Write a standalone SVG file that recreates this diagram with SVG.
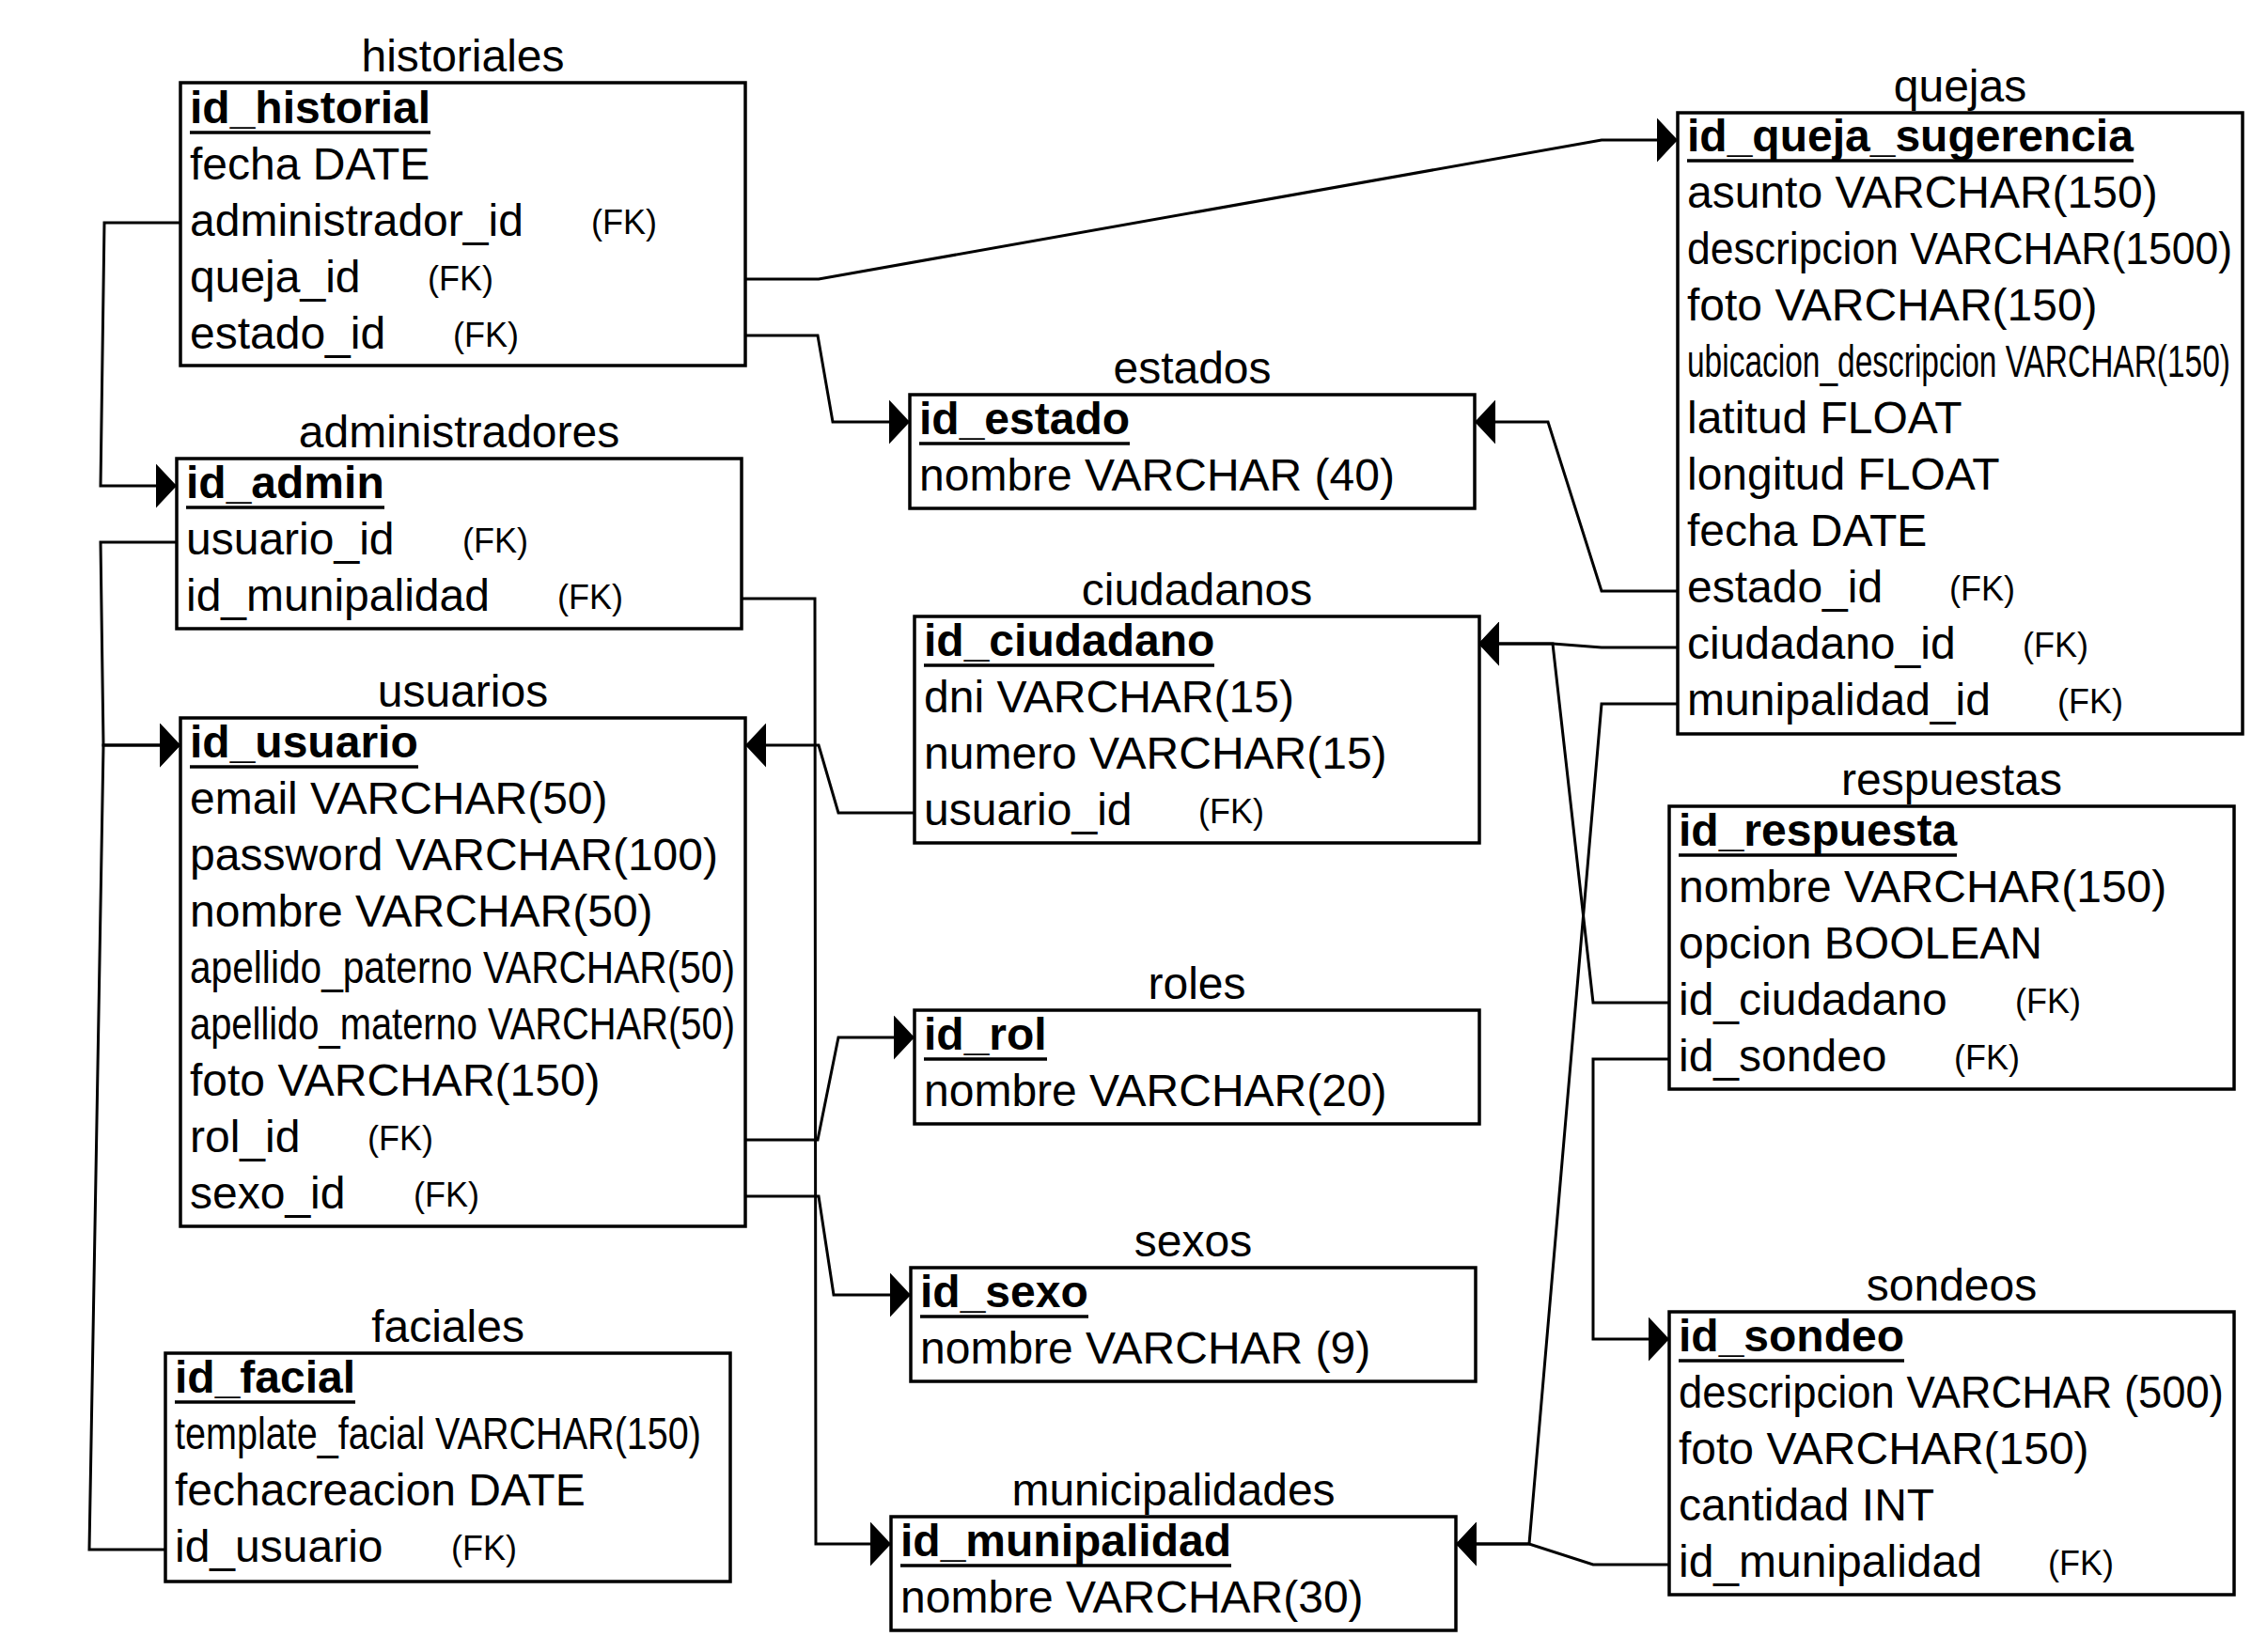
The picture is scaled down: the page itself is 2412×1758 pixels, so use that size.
<svg xmlns="http://www.w3.org/2000/svg" width="2412" height="1758" viewBox="0 0 2412 1758">
<style>
.bg{fill:#fff}
.box{fill:#fff;stroke:#000;stroke-width:3.5}
.t{font-family:"Liberation Sans",Arial,Helvetica,sans-serif;font-size:48px;fill:#000}
.title{text-anchor:middle}
.pk{font-weight:bold}
.ul{stroke:#000;stroke-width:3.5}
.fk{font-size:36px}
.ln{fill:none;stroke:#000;stroke-width:3;stroke-linejoin:miter}
.ar{marker-end:url(#arr)}
</style>
<defs>
<marker id="arr" viewBox="0 0 22 47" refX="22" refY="23.5" markerWidth="22" markerHeight="47" markerUnits="userSpaceOnUse" orient="auto">
<path d="M0,0 L22,23.5 L0,47 Z" fill="#000"/>
</marker>
</defs>
<rect class="bg" x="0" y="0" width="2412" height="1758"/>

<g id="connectors">
<path class="ln ar" d="M192,237 L111,237 L107,517 L188,517"/>
<path class="ln ar" d="M793,297 L871,297 L1704,149 L1785,149"/>
<path class="ln ar" d="M793,357 L870,357 L886,449 L968,449"/>
<path class="ln ar" d="M188,577 L107,577 L110,793 L192,793"/>
<path class="ln ar" d="M176,1649 L95,1649 L110,793 L192,793"/>
<path class="ln ar" d="M789,637 L867,637 L868,1643 L948,1643"/>
<path class="ln ar" d="M973,865 L892,865 L871,793 L793,793"/>
<path class="ln ar" d="M793,1213 L870,1213 L892,1104 L973,1104"/>
<path class="ln ar" d="M793,1273 L871,1273 L887,1378 L969,1378"/>
<path class="ln ar" d="M1785,629 L1704,629 L1647,449 L1569,449"/>
<path class="ln ar" d="M1785,689 L1704,689 L1652,685 L1573,685"/>
<path class="ln ar" d="M1776,1067 L1695,1067 L1652,685 L1573,685"/>
<path class="ln ar" d="M1785,749 L1704,749 L1627,1643 L1549,1643"/>
<path class="ln ar" d="M1776,1665 L1695,1665 L1627,1643 L1549,1643"/>
<path class="ln ar" d="M1776,1127 L1695,1127 L1695,1425 L1776,1425"/>
</g>

<g id="historiales">
<text class="t title" x="492.5" y="76">historiales</text>
<rect class="box" x="192" y="88" width="601" height="301"/>
<text class="t pk" x="202" y="131">id_historial</text><line class="ul" x1="202" y1="141" x2="458" y2="141"/>
<text class="t" x="202" y="191">fecha DATE</text>
<text class="t" x="202" y="251">administrador_id</text><text class="t fk" x="629" y="249">(FK)</text>
<text class="t" x="202" y="311">queja_id</text><text class="t fk" x="455" y="309">(FK)</text>
<text class="t" x="202" y="371">estado_id</text><text class="t fk" x="482" y="369">(FK)</text>
</g>

<g id="administradores">
<text class="t title" x="488.5" y="476">administradores</text>
<rect class="box" x="188" y="488" width="601" height="181"/>
<text class="t pk" x="198" y="530">id_admin</text><line class="ul" x1="198" y1="540" x2="409" y2="540"/>
<text class="t" x="198" y="590">usuario_id</text><text class="t fk" x="492" y="588">(FK)</text>
<text class="t" x="198" y="650">id_munipalidad</text><text class="t fk" x="593" y="648">(FK)</text>
</g>

<g id="usuarios">
<text class="t title" x="492.5" y="752">usuarios</text>
<rect class="box" x="192" y="764" width="601" height="541"/>
<text class="t pk" x="202" y="806">id_usuario</text><line class="ul" x1="202" y1="816" x2="445" y2="816"/>
<text class="t" x="202" y="866">email VARCHAR(50)</text>
<text class="t" x="202" y="926">password VARCHAR(100)</text>
<text class="t" x="202" y="986">nombre VARCHAR(50)</text>
<text class="t" x="202" y="1046" textLength="580" lengthAdjust="spacingAndGlyphs">apellido_paterno VARCHAR(50)</text>
<text class="t" x="202" y="1106" textLength="580" lengthAdjust="spacingAndGlyphs">apellido_materno VARCHAR(50)</text>
<text class="t" x="202" y="1166">foto VARCHAR(150)</text>
<text class="t" x="202" y="1226">rol_id</text><text class="t fk" x="391" y="1224">(FK)</text>
<text class="t" x="202" y="1286">sexo_id</text><text class="t fk" x="440" y="1284">(FK)</text>
</g>

<g id="faciales">
<text class="t title" x="476.5" y="1428">faciales</text>
<rect class="box" x="176" y="1440" width="601" height="243"/>
<text class="t pk" x="186" y="1482">id_facial</text><line class="ul" x1="186" y1="1492" x2="378" y2="1492"/>
<text class="t" x="186" y="1542" textLength="560" lengthAdjust="spacingAndGlyphs">template_facial VARCHAR(150)</text>
<text class="t" x="186" y="1602">fechacreacion DATE</text>
<text class="t" x="186" y="1662">id_usuario</text><text class="t fk" x="480" y="1660">(FK)</text>
</g>

<g id="estados">
<text class="t title" x="1268.5" y="408">estados</text>
<rect class="box" x="968" y="420" width="601" height="121"/>
<text class="t pk" x="978" y="462">id_estado</text><line class="ul" x1="978" y1="472" x2="1202" y2="472"/>
<text class="t" x="978" y="522">nombre VARCHAR (40)</text>
</g>

<g id="ciudadanos">
<text class="t title" x="1273.5" y="644">ciudadanos</text>
<rect class="box" x="973" y="656" width="601" height="241"/>
<text class="t pk" x="983" y="698">id_ciudadano</text><line class="ul" x1="983" y1="708" x2="1292" y2="708"/>
<text class="t" x="983" y="758">dni VARCHAR(15)</text>
<text class="t" x="983" y="818">numero VARCHAR(15)</text>
<text class="t" x="983" y="878">usuario_id</text><text class="t fk" x="1275" y="876">(FK)</text>
</g>

<g id="roles">
<text class="t title" x="1273.5" y="1063">roles</text>
<rect class="box" x="973" y="1075" width="601" height="121"/>
<text class="t pk" x="983" y="1117">id_rol</text><line class="ul" x1="983" y1="1127" x2="1114" y2="1127"/>
<text class="t" x="983" y="1177">nombre VARCHAR(20)</text>
</g>

<g id="sexos">
<text class="t title" x="1269.5" y="1337">sexos</text>
<rect class="box" x="969" y="1349" width="601" height="121"/>
<text class="t pk" x="979" y="1391">id_sexo</text><line class="ul" x1="979" y1="1401" x2="1158" y2="1401"/>
<text class="t" x="979" y="1451">nombre VARCHAR (9)</text>
</g>

<g id="municipalidades">
<text class="t title" x="1248.5" y="1602">municipalidades</text>
<rect class="box" x="948" y="1614" width="601" height="121"/>
<text class="t pk" x="958" y="1656">id_munipalidad</text><line class="ul" x1="958" y1="1666" x2="1310" y2="1666"/>
<text class="t" x="958" y="1716">nombre VARCHAR(30)</text>
</g>

<g id="quejas">
<text class="t title" x="2085.5" y="108">quejas</text>
<rect class="box" x="1785" y="120" width="601" height="661"/>
<text class="t pk" x="1795" y="161">id_queja_sugerencia</text><line class="ul" x1="1795" y1="171" x2="2270" y2="171"/>
<text class="t" x="1795" y="221">asunto VARCHAR(150)</text>
<text class="t" x="1795" y="281" textLength="580" lengthAdjust="spacingAndGlyphs">descripcion VARCHAR(1500)</text>
<text class="t" x="1795" y="341">foto VARCHAR(150)</text>
<text class="t" x="1795" y="401" textLength="578" lengthAdjust="spacingAndGlyphs">ubicacion_descripcion VARCHAR(150)</text>
<text class="t" x="1795" y="461">latitud FLOAT</text>
<text class="t" x="1795" y="521">longitud FLOAT</text>
<text class="t" x="1795" y="581">fecha DATE</text>
<text class="t" x="1795" y="641">estado_id</text><text class="t fk" x="2074" y="639">(FK)</text>
<text class="t" x="1795" y="701">ciudadano_id</text><text class="t fk" x="2152" y="699">(FK)</text>
<text class="t" x="1795" y="761">munipalidad_id</text><text class="t fk" x="2189" y="759">(FK)</text>
</g>

<g id="respuestas">
<text class="t title" x="2076.5" y="846">respuestas</text>
<rect class="box" x="1776" y="858" width="601" height="301"/>
<text class="t pk" x="1786" y="900">id_respuesta</text><line class="ul" x1="1786" y1="910" x2="2082" y2="910"/>
<text class="t" x="1786" y="960">nombre VARCHAR(150)</text>
<text class="t" x="1786" y="1020">opcion BOOLEAN</text>
<text class="t" x="1786" y="1080">id_ciudadano</text><text class="t fk" x="2144" y="1078">(FK)</text>
<text class="t" x="1786" y="1140">id_sondeo</text><text class="t fk" x="2079" y="1138">(FK)</text>
</g>

<g id="sondeos">
<text class="t title" x="2076.5" y="1384">sondeos</text>
<rect class="box" x="1776" y="1396" width="601" height="301"/>
<text class="t pk" x="1786" y="1438">id_sondeo</text><line class="ul" x1="1786" y1="1448" x2="2026" y2="1448"/>
<text class="t" x="1786" y="1498" textLength="580" lengthAdjust="spacingAndGlyphs">descripcion VARCHAR (500)</text>
<text class="t" x="1786" y="1558">foto VARCHAR(150)</text>
<text class="t" x="1786" y="1618">cantidad INT</text>
<text class="t" x="1786" y="1678">id_munipalidad</text><text class="t fk" x="2179" y="1676">(FK)</text>
</g>
</svg>
